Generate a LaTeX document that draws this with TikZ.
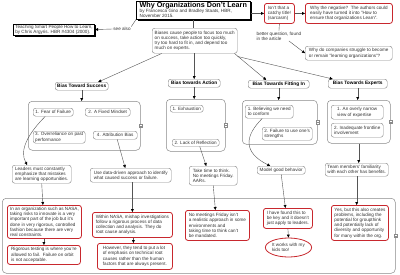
\documentclass[tikz,border=0pt]{standalone}
\usepackage{fontspec}
\setmainfont{Liberation Sans}
\usetikzlibrary{arrows.meta,shapes.geometric,shadows,calc}
\definecolor{txt}{HTML}{333333}
\definecolor{gborder}{HTML}{8A8A8A}
\definecolor{rborder}{HTML}{C8282E}
\definecolor{lnk}{HTML}{555555}
\newcommand\mybox[7]{%
 \pgfmathsetmacro\mbw{#5-#3}\pgfmathsetmacro\mbh{#6-#4}%
 \node[#2, anchor=north west, minimum width=\mbw pt, minimum height=\mbh pt] (#1) at (#3,#4) {#7};}
\tikzset{
 every node/.style={text=txt, font=\fontsize{4.6}{5.2}\selectfont, inner xsep=2pt, inner ysep=1pt, align=left},
 topic/.style={draw=gborder, rounded corners=2.5pt, line width=0.45pt, fill=white},
 hdr/.style={topic, font=\fontsize{4.8}{5.4}\selectfont\bfseries, text=black},
 note/.style={draw=rborder, rounded corners=2.5pt, line width=0.8pt, fill=white},
 grp/.style={draw=gborder, rounded corners=4pt, line width=0.5pt},
 blackbox/.style={draw=black, line width=0.6pt, fill=white, inner ysep=1pt, drop shadow={shadow xshift=1.5pt, shadow yshift=-1.5pt, fill=black, opacity=1}},
 lbl/.style={inner sep=0.5pt},
 conn/.style={draw=lnk, line width=0.4pt},
 arr/.style={conn, -{Triangle[length=3pt,width=2.8pt,black]}},
 collapsebox/.style={draw=gborder, fill=white, minimum size=3.5pt, inner sep=0pt, line width=0.3pt},
}
\begin{document}
\begin{tikzpicture}[x=1pt,y=-1pt]
\useasboundingbox (0,0) rectangle (400,274);
\fill[white] (0,0) rectangle (400,274);
% group containers
\mybox{g1}{grp}{28}{101}{140}{150}{}
\mybox{g2}{grp}{166}{99}{225}{151}{}
\mybox{g3}{grp}{242}{100}{317}{144}{}
\mybox{g4}{grp}{327}{100}{390}{143}{}
\mybox{bot}{grp}{2}{198}{395}{273}{}
% title etc.
\mybox{title}{blackbox}{136}{0.5}{250}{19}{{\fontsize{7.2}{8}\selectfont\bfseries\color{black}Why Organizations Don't Learn}\\[-0.4pt]by Francesca Gino and Bradley Staats, HBR,\\November 2015.}
\mybox{teach}{blackbox}{13}{23.5}{94}{34}{\fontsize{4.6}{4.9}\selectfont Teaching Smart People How to Learn,\\by Chris Argyris. HBR \#4304 (2000).}
\mybox{catchy}{note}{264}{3}{294}{23}{Isn't that a\\catchy title!\\(sarcasm)}
\mybox{why}{note}{305}{3}{392}{23}{Why the negative?\ \ The authors could\\easily have turned it into "How to\\ensure that organizations Learn".}
\mybox{struggle}{topic}{305}{46}{392}{60}{Why do companies struggle to become\\or remain "learning organizations"?}
\mybox{biases}{topic}{152}{28}{237}{53}{Biases cause people to focus too much\\on success, take action too quickly,\\try too hard to fit in, and depend too\\much on experts.}
\node[lbl] (seealso) at (122,29) {see also};
\node[lbl, anchor=north west] (bq) at (256,31) {better question, found\\in the article};
% headers
\mybox{success}{hdr}{55}{82}{108}{90}{Bias Toward Success}
\mybox{action}{hdr}{168}{79}{220}{87}{Bias towards Action}
\mybox{fitting}{hdr}{248}{80}{309}{88}{Bias Towards Fitting In}
\mybox{experts}{hdr}{328}{79}{387}{88}{Bias Towards Experts}
% items
\mybox{s1}{topic}{33}{108}{73}{116}{1. Fear of Failure}
\mybox{s2}{topic}{85}{108}{130}{116}{2. A Fixed Mindset}
\mybox{s3}{topic}{33}{131}{85}{143}{3. Overreliance on past\\performance}
\mybox{s4}{topic}{93}{131}{137}{139}{4. Attribution Bias}
\mybox{a1}{topic}{170}{105}{203}{112}{1. Exhaustion}
\mybox{a2}{topic}{172}{139}{219}{146}{2. Lack of Reflection}
\mybox{f1}{topic}{245}{105}{293}{118}{1. Believing we need\\to conform}
\mybox{f2}{topic}{262}{127}{312}{140}{2. Failure to use one's\\strengths}
\mybox{e1}{topic}{331}{105}{383}{119}{1. An overly narrow\\view of expertise}
\mybox{e2}{topic}{331}{123}{383}{137}{2. Inadequate frontline\\involvement}
% lower topics
\mybox{leaders}{topic}{12}{165}{71}{183}{Leaders must constantly\\emphasize that mistakes\\are learning opportunities.}
\mybox{data}{topic}{90}{168}{171}{182}{Use data-driven approach to identify\\what caused success or failure.}
\mybox{take}{topic}{189}{166}{237}{185}{Take time to think.\\No meetings Friday.\\AARs.}
\mybox{model}{topic}{257}{166}{305}{174}{Model good behavior}
\mybox{team}{topic}{325}{163}{388}{176}{Team members' familiarity\\with each other has benefits.}
% notes
\mybox{r1}{note}{7}{205}{81}{238}{In an organization such as NASA,\\taking risks to innovate is a very\\important part of the job but it's\\done in very rigorous, controlled\\fashion because there are very\\real constraints.}
\mybox{r2}{note}{7}{245}{80}{264}{Rigorous testing is where you're\\allowed to fail.\ \ Failure on orbit\\is not acceptable.}
\mybox{r3}{note}{92}{212}{172}{237}{Within NASA, mishap investigations\\follow a rigorous process of data\\collection and analysis. They do\\root cause analysis.}
\mybox{r4}{note}{97}{243}{172}{269}{However, they tend to put a lot\\of emphasis on technical root\\causes rather than the human\\factors that are always present.}
\mybox{r5}{note}{185}{210}{249}{240}{No meetings Friday isn't\\a realistic approach in some\\environments and\\taking time to think can't\\be mandated.}
\mybox{r6}{note}{263}{208}{312}{228}{I have found this to\\be key and it doesn't\\just apply to leaders.}
\node[ellipse, draw=rborder, line width=0.8pt, fill=white, minimum width=45pt, minimum height=19pt, inner sep=0pt] (ell) at (288.5,247.5) {It works with my\\kids too!};
\mybox{r7}{note}{331}{205}{388}{240}{Yes, but this also creates\\problems, including the\\potential for groupthink\\and potentially lack of\\diversity and opportunity\\for many within the org.}
% collapse markers
\foreach \g in {g1,g2,g3,g4,bot}{
 \node[collapsebox] (m\g) at (\g.east) {};
 \draw[gborder, line width=0.3pt] ([xshift=-1pt]m\g.center) -- ([xshift=1pt]m\g.center);
}
% connectors
\draw[conn] (title.south west) -- (seealso.north east);
\draw[arr] (seealso.west) -- (teach.east);
\draw[arr] (title.east |- catchy.west) -- (catchy.west);
\draw[arr] (catchy.east) -- (why.west);
\draw[conn] (catchy.south) -- (bq.north);
\draw[arr] ([xshift=10pt]bq.south) -- (struggle.west);
\draw[conn] (title.south) -- (title.south |- biases.north);
\draw[arr] ([xshift=-33pt]biases.south) -- ([xshift=16.5pt]success.north);
\draw[arr] (action.north |- biases.south) -- (action.north);
\draw[arr] ([xshift=-3pt]biases.south east) -- ([xshift=-12.5pt]fitting.north);
\draw[arr] ([yshift=-3pt]biases.south east) -- ([xshift=-25pt]experts.north);
\draw[arr] (success.south) -- (success.south |- g1.north);
\draw[arr] (action.south) -- (action.south |- g2.north);
\draw[arr] (fitting.south) -- (fitting.south |- g3.north);
\draw[arr] (experts.south) -- (experts.south |- g4.north);
\draw[arr] ([xshift=-8pt]s1.south) .. controls +(-18,18) and +(-8,-14) .. ([xshift=-14.5pt]leaders.north);
\draw[arr] ([xshift=2pt]s4.south) -- ([xshift=-5.5pt]data.north);
\draw[arr] ([xshift=4pt]a2.south) -- ([xshift=-7pt]take.north);
\draw[arr] ([xshift=-7pt]f1.south) .. controls +(-17,17) and +(-28,-14) .. ([xshift=-11pt]model.north);
\draw[arr] (g4.south) -- (g4.south |- team.north);
\draw[arr] (leaders.south) -- ([xshift=-1.5pt]r1.north);
\draw[arr] ([xshift=-0.5pt]r1.south) -- ([xshift=-0.5pt]r1.south |- r2.north);
\draw[arr] (r3.north |- data.south) -- (r3.north);
\draw[arr] ([xshift=1pt]r3.south) -- ([xshift=1pt]r3.south |- r4.north);
\draw[arr] (take.south) -- ([xshift=-2pt]r5.north);
\draw[arr] (model.south) -- ([xshift=-2.5pt]r6.north);
\draw[arr] (r6.south) -- (ell.north);
\draw[arr] (team.south) -- (team.south |- r7.north);
\end{tikzpicture}
\end{document}
